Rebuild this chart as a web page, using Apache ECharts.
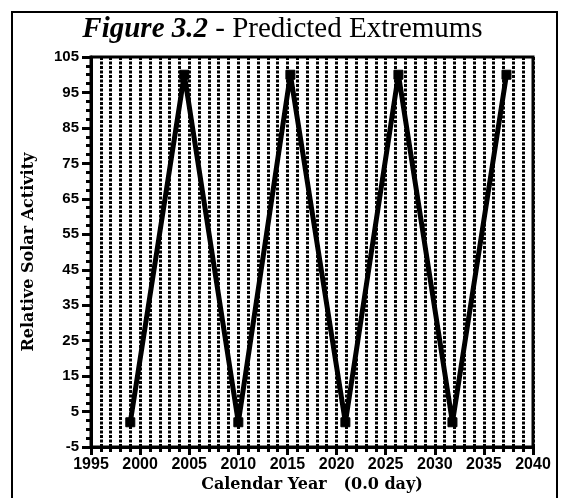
<!DOCTYPE html>
<html>
<head>
<meta charset="utf-8">
<script src="https://cdn.jsdelivr.net/npm/echarts@6/dist/echarts.min.js"></script>
<style>html,body{margin:0;padding:0;background:#fff}#c{width:565px;height:498px}</style>
</head>
<body>
<div id="c"></div>
<script>
// Data
var years = [1999.0, 2004.5, 2010.0, 2015.3, 2020.9, 2026.3, 2031.8, 2037.3];
var activity = [2, 100, 2, 100, 2, 100, 2, 100];
var xTicks = [1995, 2000, 2005, 2010, 2015, 2020, 2025, 2030, 2035, 2040];
var yTicks = [-5, 5, 15, 25, 35, 45, 55, 65, 75, 85, 95, 105];

var yBase = yTicks[0];               // axis starts at -5, ticks every 10
var yStep = yTicks[1] - yTicks[0];
var yOffset = -yBase;                // shift so the axis min is a multiple of the interval

var chart = echarts.init(document.getElementById('c'), null, {renderer: 'canvas'});
var pts = years.map(function (y, i) { return [y, activity[i] + yOffset]; });

chart.setOption({
  animation: false,
  backgroundColor: '#fff',
  title: {
    left: 'center', top: 10,
    text: '{a|Figure 3.2}{b| - Predicted Extremums}',
    textStyle: {
      rich: {
        a: {fontFamily: 'Liberation Serif', fontSize: 29, fontWeight: 'bold', fontStyle: 'italic', color: '#000'},
        b: {fontFamily: 'Liberation Serif', fontSize: 29, fontWeight: 'normal', color: '#000'}
      }
    }
  },
  graphic: [{
    type: 'rect', silent: true, z: 0,
    shape: {x: 12, y: 12, width: 545, height: 492},
    style: {fill: 'none', stroke: '#000', lineWidth: 2}
  }],
  grid: {left: 91, right: 32, top: 57, bottom: 47, show: true, borderColor: '#000', borderWidth: 3, backgroundColor: 'transparent'},
  xAxis: {
    type: 'value',
    min: xTicks[0], max: xTicks[xTicks.length - 1], interval: xTicks[1] - xTicks[0],
    name: 'Calendar Year   (0.0 day)',
    nameLocation: 'middle', nameGap: 26,
    nameTextStyle: {fontFamily: 'DejaVu Serif', fontWeight: 'bold', fontSize: 16, color: '#000'},
    axisLine: {show: true, lineStyle: {color: '#000', width: 3}},
    axisTick: {show: true, inside: false, length: 8, lineStyle: {color: '#000', width: 3}},
    minorTick: {show: true, splitNumber: 5, length: 5, lineStyle: {color: '#000', width: 3}},
    axisLabel: {margin: 9, fontFamily: 'Liberation Sans', fontWeight: 'bold', fontSize: 16, color: '#000',
      showMinLabel: true, showMaxLabel: true,
      formatter: function (v) { return String(v); }},
    splitLine: {show: true, lineStyle: {color: '#000', width: 3, type: [3, 1.5]}},
    minorSplitLine: {show: true, lineStyle: {color: '#000', width: 3, type: [3, 1.5]}}
  },
  yAxis: {
    type: 'value',
    min: 0, max: yTicks[yTicks.length - 1] + yOffset, interval: yStep,
    name: 'Relative Solar Activity',
    nameLocation: 'middle', nameGap: 54, nameRotate: 90,
    nameTextStyle: {fontFamily: 'DejaVu Serif', fontWeight: 'bold', fontSize: 16, color: '#000'},
    axisLine: {show: true, lineStyle: {color: '#000', width: 3}},
    axisTick: {show: true, inside: false, length: 9, lineStyle: {color: '#000', width: 3}},
    minorTick: {show: true, splitNumber: 4, length: 5, lineStyle: {color: '#000', width: 3}},
    axisLabel: {margin: 12, fontFamily: 'Liberation Sans', fontWeight: 'bold', fontSize: 15, color: '#000',
      formatter: function (v) { return String(v - yOffset); }},
    splitLine: {show: false}
  },
  series: [{
    type: 'line',
    data: pts,
    symbol: 'rect', symbolSize: 9,
    lineStyle: {color: '#000', width: 5},
    itemStyle: {color: '#000', borderColor: '#000'},
    z: 5
  }]
});
</script>
</body>
</html>
